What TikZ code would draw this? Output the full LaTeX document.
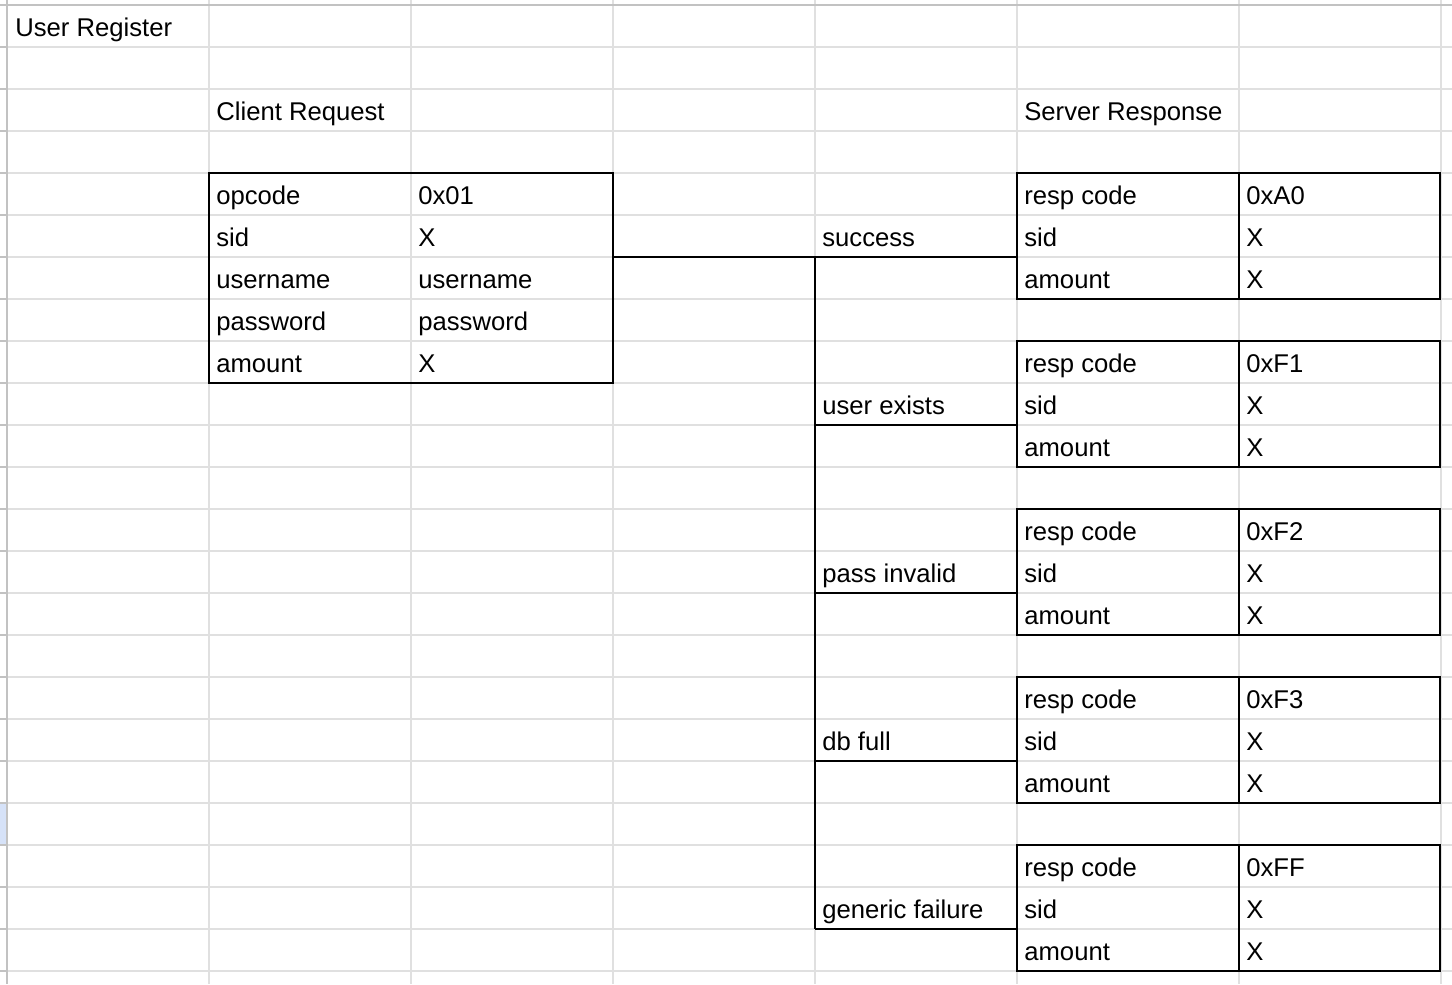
\documentclass[tikz,border=0pt]{standalone}
\usepackage{fontspec}
\setmainfont{Liberation Sans}
\usetikzlibrary{positioning}
\definecolor{selblue}{HTML}{D6E2F8}

\begin{document}
\begin{tikzpicture}%
        [x=0.02cm, y=-0.02cm,
        grid/.style={color=black!12, line width=0.8pt},
        frame/.style={color=black!24, line width=1.1pt},
        tbl/.style={color=black, line width=1.1pt},
        cell/.style={anchor=base west, inner sep=0pt, font=\fontsize{14.6}{17}\selectfont}]
    %
    \useasboundingbox (0,0) rectangle (1452,984);
    \fill[white] (0,0) rectangle (1452,984);
    %% Drawing the sheet
    \fill[selblue] (0,804) rectangle (6,845);
    \foreach \x in {209,411,613,815,1017,1239,1441}
        \draw[grid] (\x,0) -- (\x,984);
    \foreach \k in {1,...,23}
        \draw[grid] (8,{5+42*\k}) -- (1452,{5+42*\k});
    \foreach \k in {1,...,23}
        \draw[frame] (0,{5+42*\k}) -- (7,{5+42*\k});
    \draw[frame] (0,5) -- (1452,5);
    \draw[frame] (7,0) -- (7,984);
    %%
    %% Headings
    \node[cell] (title) at (15,36) {User Register};
    \node[cell] (reqhead) at (216,120) {Client Request};
    \node[cell] (resphead) at (1024,120) {Server Response};
    %%
    %% Client request
    \coordinate (req-nw) at (209,173);
    \coordinate (req-se) at (613,383);
    \draw[tbl] (req-nw) rectangle (req-se);
    \foreach \r/\key/\val [count=\i] in {0/opcode/0x01, 1/sid/X, 2/username/username,
                                        3/password/password, 4/amount/X}
    {
        \node[cell] (req-k\i) at (216,{204+42*\r}) {\key};
        \node[cell] (req-v\i) at (418,{204+42*\r}) {\val};
    }
    %%
    %% Server responses
    \foreach \t/\code/\name/\lbl in {173/0xA0/ok/success, 341/0xF1/exists/user exists,
                                     509/0xF2/badpass/pass invalid, 677/0xF3/full/db full,
                                     845/0xFF/fail/generic failure}
    {
        \draw[tbl] (1017,\t) rectangle (1440,{\t+126});
        \draw[tbl] (1239,\t) -- (1239,{\t+126});
        \node[cell] (\name-k1) at (1024,{\t+31}) {resp code};
        \node[cell] (\name-k2) at (1024,{\t+73}) {sid};
        \node[cell] (\name-k3) at (1024,{\t+115}) {amount};
        \node[cell] (\name-v1) at (1246,{\t+31}) {\code};
        \node[cell] (\name-v2) at (1246,{\t+73}) {X};
        \node[cell] (\name-v3) at (1246,{\t+115}) {X};
        \node[cell] (\name) at (822,{\t+73}) {\lbl};
        \coordinate (\name-l) at (815,{\t+84});
        \coordinate (\name-r) at (1017,{\t+84});
    }
    %%
    %% Branches
    \draw[tbl] (req-se |- ok-l) -- (ok-r);
    \draw[tbl] (ok-l) -- (fail-l);
    \foreach \name in {exists,badpass,full,fail}
        \draw[tbl] (\name-l) -- (\name-r);
    %%
\end{tikzpicture}
\end{document}
